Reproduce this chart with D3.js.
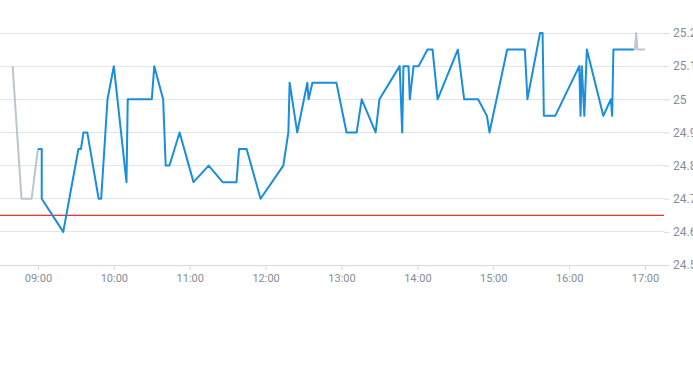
<!DOCTYPE html>
<html><head><meta charset="utf-8">
<script src="https://cdn.jsdelivr.net/npm/d3@7"></script>
<style>
body{margin:0;background:#fff;}
svg{display:block;font-family:Roboto, "Liberation Sans", sans-serif;}
</style></head>
<body><svg id="c" width="693" height="365"></svg>
<script>
// pre-market (gray)
const preTimes = ["08:40","08:47","08:55","09:00"];
const preValues = [25.1,24.7,24.7,24.85];
// main session (blue)
const mainTimes = ["09:00","09:03","09:03","09:20","09:32","09:34","09:36","09:39","09:48","09:50","09:55","10:00","10:10","10:11","10:30","10:32","10:39","10:41","10:44","10:52","11:03","11:15","11:26","11:37","11:39","11:45","11:56","12:14","12:18","12:19","12:25","12:33","12:34","12:37","12:56","13:04","13:12","13:16","13:27","13:30","13:46","13:48","13:49","13:53","13:54","13:57","14:01","14:08","14:12","14:16","14:32","14:37","14:48","14:55","14:57","15:11","15:25","15:27","15:37","15:39","15:40","15:49","16:08","16:09","16:10","16:12","16:14","16:27","16:33","16:34","16:35","16:51"];
const mainValues = [24.85,24.85,24.7,24.6,24.85,24.85,24.9,24.9,24.7,24.7,25.0,25.1,24.75,25.0,25.0,25.1,25.0,24.8,24.8,24.9,24.75,24.8,24.75,24.75,24.85,24.85,24.7,24.8,24.9,25.05,24.9,25.05,25.0,25.05,25.05,24.9,24.9,25.0,24.9,25.0,25.1,24.9,25.1,25.1,25.0,25.1,25.1,25.15,25.15,25.0,25.15,25.0,25.0,24.95,24.9,25.15,25.15,25.0,25.2,25.2,24.95,24.95,25.1,24.95,25.1,24.95,25.15,24.95,25.0,24.95,25.15,25.15];
// after hours (gray)
const postTimes = ["16:51","16:52","16:53","16:54","17:00"];
const postValues = [25.15,25.15,25.2,25.15,25.15];
const refValue = 24.65;
const xTickLabels = ["09:00","10:00","11:00","12:00","13:00","14:00","15:00","16:00","17:00"];
const yTickValues = [24.5,24.6,24.7,24.8,24.9,25.0,25.1,25.2];

const parse = d3.timeParse("%H:%M");
const svg = d3.select("#c");
const x = d3.scaleTime().domain([parse("08:30"), parse("17:15")]).range([0, 664]);
const y = d3.scaleLinear().domain([24.5, 25.2]).range([265, 33]);
const fmtY = v => (Math.round(v*100)/100).toString();

// grid
svg.append("g").selectAll("line").data(yTickValues).join("line")
  .attr("x1",0).attr("x2",664).attr("y1",d=>y(d)).attr("y2",d=>y(d))
  .attr("stroke","#e1e4e8").attr("stroke-width",1).attr("shape-rendering","crispEdges");

// y axis right
const yAxis = d3.axisRight(y).tickValues(yTickValues).tickSize(5).tickPadding(4).tickFormat(fmtY);
const gy = svg.append("g").attr("transform","translate(664,0)").call(yAxis);
gy.select(".domain").remove();
gy.selectAll("line").attr("stroke","#d5d9de");
gy.selectAll("text").attr("fill","#858d97").style("font-size","12px").style("font-family","Roboto, sans-serif");

// x axis
const xAxis = d3.axisBottom(x).tickValues(xTickLabels.map(parse)).tickSize(5).tickPadding(4).tickFormat(d3.timeFormat("%H:%M"));
const gx = svg.append("g").attr("transform","translate(0,265)").call(xAxis);
gx.select(".domain").attr("stroke","#d5d9de").attr("d","M0,0.5H668");
gx.selectAll("line").attr("stroke","#d5d9de");
gx.selectAll("text").attr("fill","#858d97").style("font-size","11px").style("font-family","Roboto, sans-serif");

// reference line
svg.append("rect").attr("x",0).attr("width",664)
  .attr("y",y(refValue)-0.6).attr("height",1.3)
  .attr("fill","#e0392f");

const line = d3.line().x(d=>x(d[0])).y(d=>y(d[1]));
const mk = (t,v) => t.map((s,i)=>[parse(s), v[i]]);

svg.append("path").datum(mk(preTimes,preValues)).attr("d",line)
  .attr("fill","none").attr("stroke","#bcc6ce").attr("stroke-width",2).attr("stroke-linejoin","round");
svg.append("path").datum(mk(postTimes,postValues)).attr("d",line)
  .attr("fill","none").attr("stroke","#bcc6ce").attr("stroke-width",2).attr("stroke-linejoin","round");
svg.append("path").datum(mk(mainTimes,mainValues)).attr("d",line)
  .attr("fill","none").attr("stroke","#1a8ddc").attr("stroke-width",2).attr("stroke-linejoin","round");
</script></body></html>
